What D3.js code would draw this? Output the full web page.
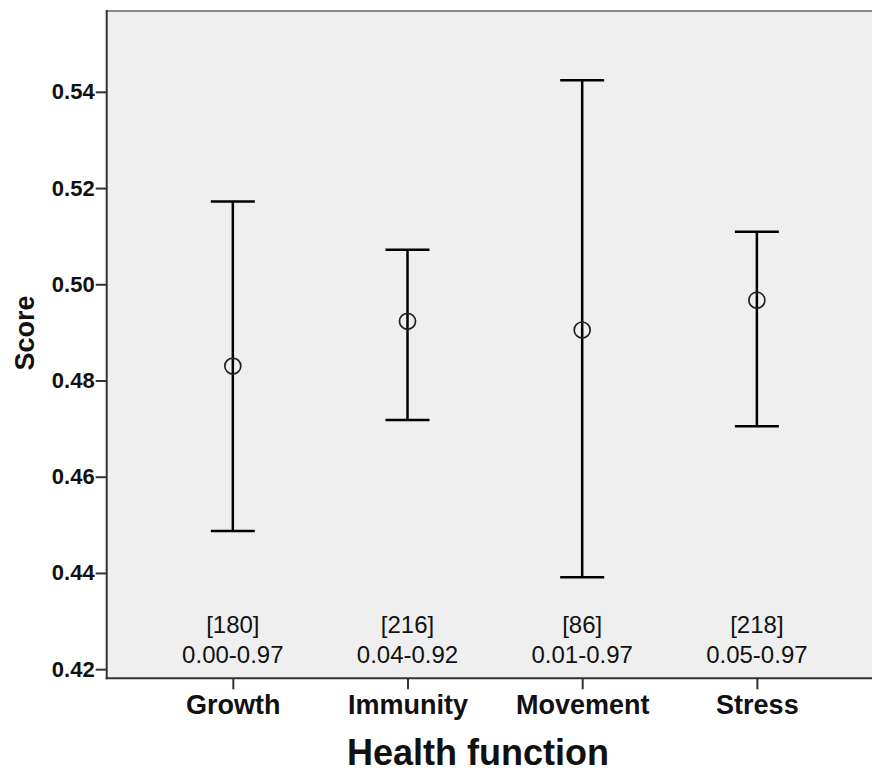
<!DOCTYPE html>
<html>
<head>
<meta charset="utf-8">
<script src="https://cdn.jsdelivr.net/npm/d3@7"></script>
<style>
  html, body { margin: 0; padding: 0; background: #fff; overflow: hidden; }
  svg { display: block; font-family: "Liberation Sans", Arial, sans-serif; }
</style>
</head>
<body>
<svg id="chart" width="872" height="773"></svg>
<script>
// Health function categories and their mean score with error-bar limits
const categories = ["Growth", "Immunity", "Movement", "Stress"];
const means  = [0.4830, 0.4923, 0.4905, 0.4967];
const lowers = [0.4487, 0.4718, 0.4391, 0.4705];
const uppers = [0.5172, 0.5072, 0.5424, 0.5109];
const counts = ["[180]", "[216]", "[86]", "[218]"];
const ranges = ["0.00-0.97", "0.04-0.92", "0.01-0.97", "0.05-0.97"];
const yTicks = [0.42, 0.44, 0.46, 0.48, 0.50, 0.52, 0.54];

const width = 872;
const svg = d3.select("#chart");
// the panel runs past the right edge of the canvas
const plot = { left: 106.7, right: 883, top: 11, bottom: 678.3 };
const visibleRight = width;

const x = d3.scalePoint()
  .domain(categories)
  .range([plot.left, plot.right])
  .padding(0.722);

const y = d3.scaleLinear()
  .domain([0.4181, 0.5568])
  .range([plot.bottom, plot.top]);

// plot background
svg.append("rect")
  .attr("x", plot.left).attr("y", plot.top)
  .attr("width", visibleRight - plot.left)
  .attr("height", plot.bottom - plot.top)
  .attr("fill", "#efefef");

// top frame line
svg.append("line")
  .attr("x1", plot.left).attr("x2", visibleRight)
  .attr("y1", plot.top).attr("y2", plot.top)
  .attr("stroke", "#8a8a8a").attr("stroke-width", 2);

// y axis
const yAxis = svg.append("g")
  .attr("transform", `translate(${plot.left},0)`)
  .call(d3.axisLeft(y).tickValues(yTicks).tickFormat(d3.format(".2f")).tickSize(11).tickPadding(1));
yAxis.select(".domain").remove();
yAxis.selectAll(".tick line").attr("stroke", "#333").attr("stroke-width", 2);
yAxis.selectAll(".tick text")
  .attr("font-size", 22).attr("font-weight", "bold").attr("fill", "#111")
  .attr("font-family", "Liberation Sans, Arial, sans-serif");
svg.append("line")
  .attr("x1", plot.left).attr("x2", plot.left)
  .attr("y1", plot.top - 1).attr("y2", plot.bottom + 1)
  .attr("stroke", "#333").attr("stroke-width", 2);

// x axis
const xAxis = svg.append("g")
  .attr("transform", `translate(0,${plot.bottom})`)
  .call(d3.axisBottom(x).tickSize(11).tickPadding(6));
xAxis.select(".domain").remove();
xAxis.selectAll(".tick line").attr("stroke", "#333").attr("stroke-width", 2);
xAxis.selectAll(".tick text")
  .attr("font-size", 27).attr("font-weight", "bold").attr("fill", "#111")
  .attr("font-family", "Liberation Sans, Arial, sans-serif");
svg.append("line")
  .attr("x1", plot.left - 1).attr("x2", visibleRight)
  .attr("y1", plot.bottom).attr("y2", plot.bottom)
  .attr("stroke", "#333").attr("stroke-width", 2);

// error bars
const capHalf = 22;
const bars = svg.append("g").selectAll("g")
  .data(categories)
  .join("g");

bars.append("line")
  .attr("x1", d => x(d)).attr("x2", d => x(d))
  .attr("y1", (d, i) => y(uppers[i])).attr("y2", (d, i) => y(lowers[i]))
  .attr("stroke", "#000").attr("stroke-width", 2.5);
bars.append("line")
  .attr("x1", d => x(d) - capHalf).attr("x2", d => x(d) + capHalf)
  .attr("y1", (d, i) => y(uppers[i])).attr("y2", (d, i) => y(uppers[i]))
  .attr("stroke", "#000").attr("stroke-width", 2.5);
bars.append("line")
  .attr("x1", d => x(d) - capHalf).attr("x2", d => x(d) + capHalf)
  .attr("y1", (d, i) => y(lowers[i])).attr("y2", (d, i) => y(lowers[i]))
  .attr("stroke", "#000").attr("stroke-width", 2.5);
bars.append("circle")
  .attr("cx", d => x(d)).attr("cy", (d, i) => y(means[i]))
  .attr("r", 8)
  .attr("fill", "none").attr("stroke", "#222").attr("stroke-width", 1.7);

// count and range annotations
const notes = svg.append("g").attr("font-size", 24).attr("fill", "#111").attr("text-anchor", "middle");
notes.selectAll("text.count")
  .data(categories).join("text").attr("class", "count")
  .attr("x", d => x(d)).attr("y", 633)
  .text((d, i) => counts[i]);
notes.selectAll("text.range")
  .data(categories).join("text").attr("class", "range")
  .attr("x", d => x(d)).attr("y", 663)
  .text((d, i) => ranges[i]);

// axis titles
svg.append("text")
  .attr("x", 478).attr("y", 765)
  .attr("text-anchor", "middle")
  .attr("font-size", 36).attr("font-weight", "bold").attr("fill", "#111")
  .text("Health function");
svg.append("text")
  .attr("transform", "translate(34,333) rotate(-90)")
  .attr("text-anchor", "middle")
  .attr("font-size", 27).attr("font-weight", "bold").attr("fill", "#111")
  .text("Score");
</script>
</body>
</html>
